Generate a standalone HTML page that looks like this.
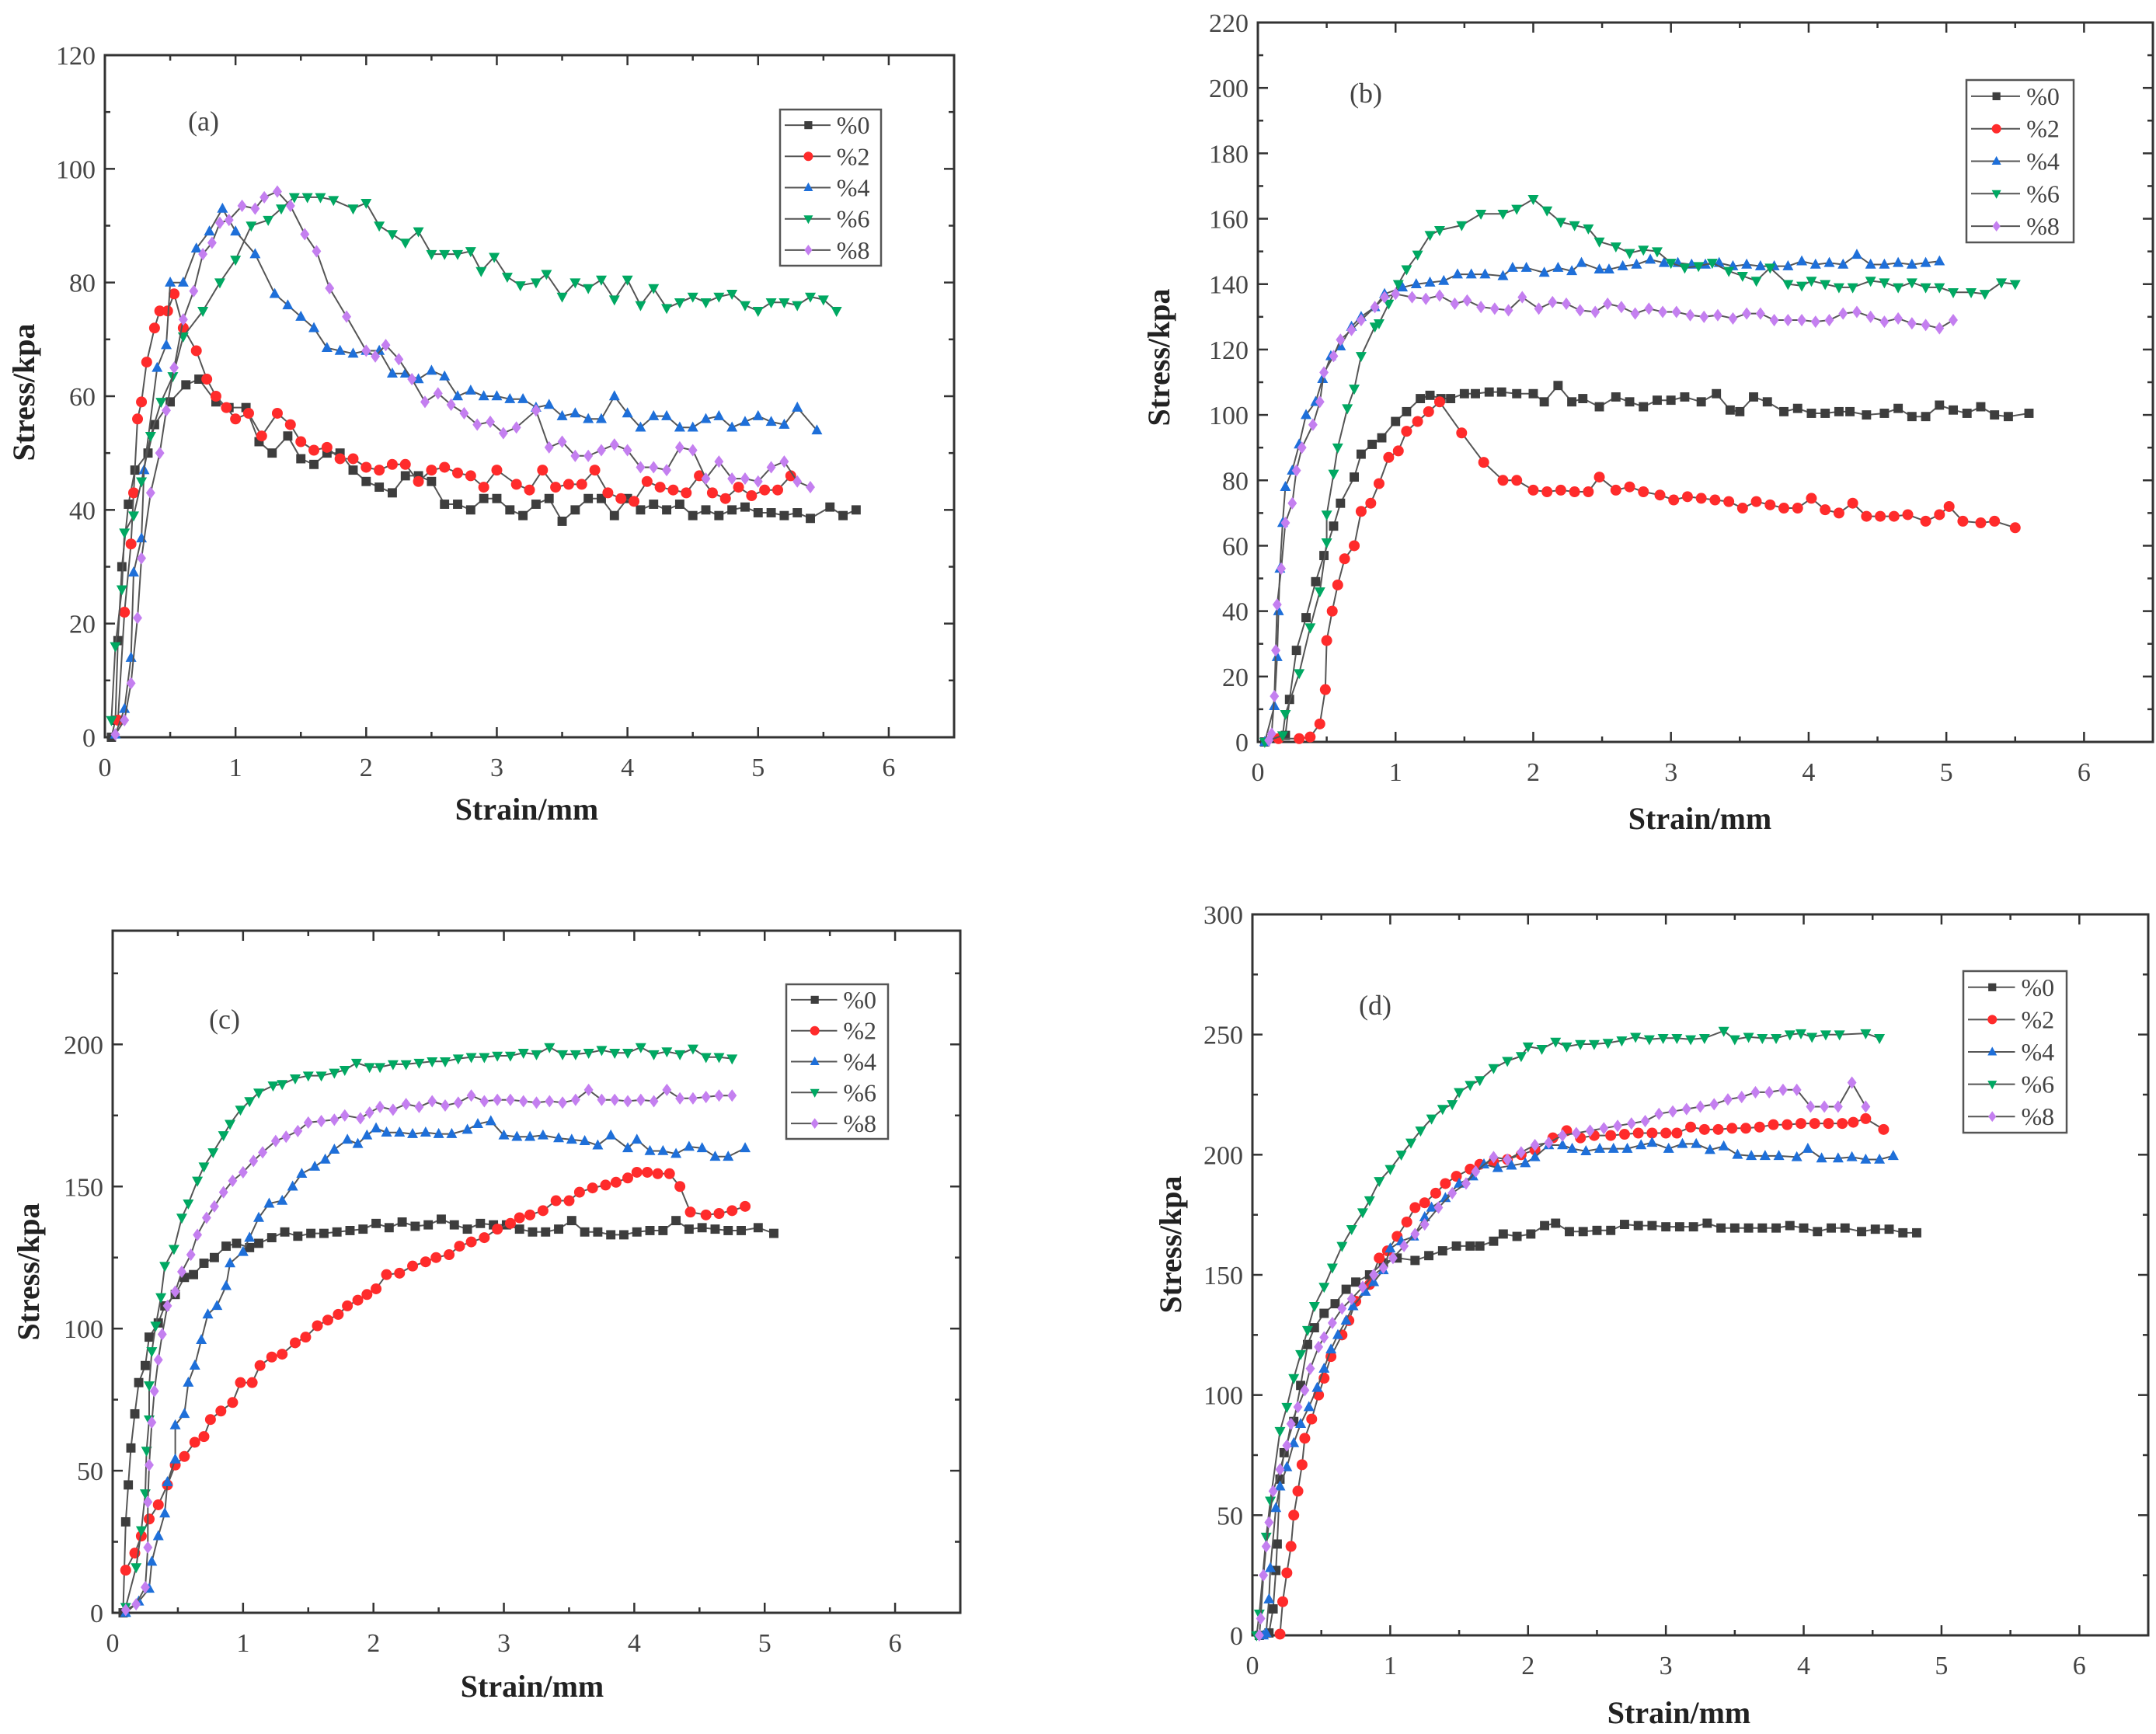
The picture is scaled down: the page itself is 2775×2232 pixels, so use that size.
<!DOCTYPE html>
<html><head><meta charset="utf-8"><style>
html,body{margin:0;padding:0;background:#fff;}
svg{display:block;}
</style></head><body>
<svg id="fig" xmlns="http://www.w3.org/2000/svg" width="2775" height="2232" viewBox="0 0 2775 2232"></svg>
<script>
// ---------- data ----------
const seriesNames = ["%0","%2","%4","%6","%8"];
const xTicks = [0,1,2,3,4,5,6];
const yTicksA = [0,20,40,60,80,100,120];
const yTicksB = [0,20,40,60,80,100,120,140,160,180,200,220];
const yTicksC = [0,50,100,150,200];
const yTicksD = [0,50,100,150,200,250,300];

const a0 = [[0.05,0],[0.08,3],[0.1,17],[0.13,30],[0.18,41],[0.23,47],[0.33,50],[0.38,55],[0.5,59],[0.62,62],[0.72,63],[0.85,59],[0.95,58],[1.08,58],[1.18,52],[1.28,50],[1.4,53],[1.5,49],[1.6,48],[1.7,50],[1.8,50],[1.9,47],[2.0,45],[2.1,44],[2.2,43],[2.3,46],[2.4,46],[2.5,45],[2.6,41],[2.7,41],[2.8,40],[2.9,42],[3.0,42],[3.1,40],[3.2,39],[3.3,41],[3.4,42],[3.5,38],[3.6,40],[3.7,42],[3.8,42],[3.9,39],[4.0,42],[4.1,40],[4.2,41],[4.3,40],[4.4,41],[4.5,39],[4.6,40],[4.7,39],[4.8,40],[4.9,40.5],[5.0,39.5],[5.1,39.5],[5.2,39],[5.3,39.5],[5.4,38.5],[5.55,40.5],[5.65,39],[5.75,40]];
const a2 = [[0.1,3],[0.15,22],[0.2,34],[0.22,43],[0.25,56],[0.28,59],[0.32,66],[0.38,72],[0.42,75],[0.48,75],[0.53,78],[0.6,72],[0.7,68],[0.78,63],[0.85,60],[0.93,58],[1.0,56],[1.1,57],[1.2,53],[1.32,57],[1.42,55],[1.5,52],[1.6,50.5],[1.7,51],[1.8,49],[1.9,49],[2.0,47.5],[2.1,47],[2.2,48],[2.3,48],[2.4,45],[2.5,47],[2.6,47.5],[2.7,46.5],[2.8,46],[2.9,44],[3.0,47],[3.15,44.5],[3.25,43.5],[3.35,47],[3.45,44],[3.55,44.5],[3.65,44.5],[3.75,47],[3.85,43],[3.95,42],[4.05,41.5],[4.15,45],[4.25,44],[4.35,43.5],[4.45,43],[4.55,46],[4.65,43],[4.75,42],[4.85,44],[4.95,42.5],[5.05,43.5],[5.15,43.5],[5.25,46]];
const a4 = [[0.08,0.5],[0.15,5],[0.2,14],[0.22,29],[0.28,35],[0.3,47],[0.4,65],[0.47,69],[0.5,80],[0.6,80],[0.7,86],[0.8,89],[0.9,93],[1.0,89],[1.15,85],[1.3,78],[1.4,76],[1.5,74],[1.6,72],[1.7,68.5],[1.8,68],[1.9,67.5],[2.0,68],[2.1,68],[2.2,64],[2.3,64],[2.4,63],[2.5,64.5],[2.6,63.5],[2.7,60],[2.8,61],[2.9,60],[3.0,60],[3.1,59.5],[3.2,59.5],[3.3,58],[3.4,58.5],[3.5,56.5],[3.6,57],[3.7,56],[3.8,56],[3.9,60],[4.0,57],[4.1,54.5],[4.2,56.5],[4.3,56.5],[4.4,54.5],[4.5,54.5],[4.6,56],[4.7,56.5],[4.8,54.5],[4.9,55.5],[5.0,56.5],[5.1,55.5],[5.2,55],[5.3,58],[5.45,54]];
const a6 = [[0.05,3],[0.08,16],[0.13,26],[0.15,36],[0.22,39],[0.28,45],[0.35,53],[0.43,59],[0.52,63.5],[0.6,70.5],[0.75,75],[0.88,80],[1.0,84],[1.12,90],[1.25,91],[1.35,93],[1.45,95],[1.55,95],[1.65,95],[1.75,94.5],[1.9,93],[2.0,94],[2.1,90],[2.2,88.5],[2.3,87],[2.4,89],[2.5,85],[2.6,85],[2.7,85],[2.8,85.5],[2.88,82],[2.98,84.5],[3.08,81],[3.18,79.5],[3.3,80],[3.38,81.5],[3.5,77.5],[3.6,80],[3.7,79],[3.8,80.5],[3.9,77],[4.0,80.5],[4.1,76],[4.2,79],[4.3,75.5],[4.4,76.5],[4.5,77.5],[4.6,76.5],[4.7,77.5],[4.8,78],[4.9,76],[5.0,75],[5.1,76.5],[5.2,76.5],[5.3,76],[5.4,77.5],[5.5,77],[5.6,75]];
const a8 = [[0.08,0.5],[0.15,3],[0.2,9.5],[0.25,21],[0.28,31.5],[0.35,43],[0.42,50],[0.47,57.5],[0.53,65],[0.6,73.5],[0.68,78.5],[0.75,85],[0.82,87],[0.88,90.5],[0.95,91],[1.05,93.5],[1.15,93],[1.22,95],[1.32,96],[1.42,93.5],[1.53,88.5],[1.62,85.5],[1.72,79],[1.85,74],[2.0,68],[2.07,67],[2.15,69],[2.25,66.5],[2.35,63],[2.45,59],[2.55,60.5],[2.65,58.5],[2.75,57],[2.85,55],[2.95,55.5],[3.05,53.5],[3.15,54.5],[3.3,57.5],[3.4,51],[3.5,52],[3.6,49.5],[3.7,49.5],[3.8,50.5],[3.9,51.5],[4.0,50.5],[4.1,47.5],[4.2,47.5],[4.3,47],[4.4,51],[4.5,50.5],[4.6,45.5],[4.7,48.5],[4.8,45.5],[4.9,45.5],[5.0,45],[5.1,47.5],[5.2,48.5],[5.3,45],[5.4,44]];

const b0 = [[0.05,0],[0.2,2],[0.23,13],[0.28,28],[0.35,38],[0.42,49],[0.48,57],[0.55,66],[0.6,73],[0.7,81],[0.75,88],[0.83,91],[0.9,93],[1.0,98],[1.08,101],[1.18,105],[1.25,106],[1.33,105],[1.4,105],[1.5,106.5],[1.58,106.5],[1.68,107],[1.77,107],[1.88,106.5],[2.0,106.5],[2.08,104],[2.18,109],[2.28,104],[2.36,105],[2.48,102.5],[2.6,105.5],[2.7,104],[2.8,102.5],[2.9,104.5],[3.0,104.5],[3.1,105.5],[3.22,104],[3.33,106.5],[3.43,101.5],[3.5,101],[3.6,105.5],[3.7,104],[3.82,101],[3.92,102],[4.02,100.5],[4.12,100.5],[4.22,101],[4.3,101],[4.42,100],[4.55,100.5],[4.65,102],[4.75,99.5],[4.85,99.5],[4.95,103],[5.05,101.5],[5.15,100.5],[5.25,102.5],[5.35,100],[5.45,99.5],[5.6,100.5]];
const b2 = [[0.15,1],[0.3,1],[0.38,1.5],[0.45,5.5],[0.49,16],[0.5,31],[0.54,40],[0.58,48],[0.63,56],[0.7,60],[0.75,70.5],[0.82,73],[0.88,79],[0.95,87],[1.02,89],[1.08,95],[1.16,98],[1.24,101],[1.32,104],[1.48,94.5],[1.64,85.5],[1.78,80],[1.88,80],[2.0,77],[2.1,76.5],[2.2,77],[2.3,76.5],[2.4,76.5],[2.48,81],[2.6,77],[2.7,78],[2.8,76.5],[2.92,75.5],[3.02,74],[3.12,75],[3.22,74.5],[3.32,74],[3.42,73.5],[3.52,71.5],[3.62,73.5],[3.72,72.5],[3.82,71.5],[3.92,71.5],[4.02,74.5],[4.12,71],[4.22,70],[4.32,73],[4.42,69],[4.52,69],[4.62,69],[4.72,69.5],[4.85,67.5],[4.95,69.5],[5.02,72],[5.12,67.5],[5.25,67],[5.35,67.5],[5.5,65.5]];
const b4 = [[0.05,0],[0.12,11],[0.14,26],[0.15,40],[0.16,53],[0.18,67],[0.2,78],[0.25,83],[0.3,91],[0.35,100],[0.42,104],[0.47,111],[0.53,118],[0.6,121],[0.68,127],[0.75,130],[0.85,133],[0.92,137],[1.05,139],[1.15,140],[1.25,140.5],[1.35,141],[1.45,143],[1.55,143],[1.65,143],[1.78,142.5],[1.85,145],[1.95,145],[2.08,143.5],[2.18,145],[2.28,144],[2.35,146.5],[2.48,144.5],[2.55,144.5],[2.65,145.5],[2.75,146],[2.85,147.5],[2.95,146.5],[3.05,146.5],[3.15,146],[3.25,146],[3.35,146.5],[3.45,145.5],[3.55,146],[3.65,145.5],[3.75,145.5],[3.85,145.5],[3.95,147],[4.05,146],[4.15,146.5],[4.25,146],[4.35,149],[4.45,146],[4.55,146],[4.65,146.5],[4.75,146],[4.85,146.5],[4.95,147]];
const b6 = [[0.05,0],[0.18,2],[0.2,8.5],[0.3,21],[0.38,35],[0.45,46],[0.5,61],[0.5,69.5],[0.55,82],[0.58,90],[0.65,102],[0.7,108],[0.75,118],[0.85,127],[0.88,128],[0.95,134],[1.02,140],[1.08,144.5],[1.16,149],[1.25,155],[1.32,156.5],[1.48,158],[1.62,161.5],[1.78,161.5],[1.88,163],[2.0,166],[2.1,162.5],[2.2,159],[2.3,158],[2.4,157],[2.48,153],[2.6,151.5],[2.7,149.5],[2.8,150.5],[2.9,150],[3.0,146.5],[3.1,145],[3.2,145.5],[3.3,146.5],[3.42,144],[3.52,142.5],[3.62,141],[3.72,145],[3.85,140],[3.95,139.5],[4.02,141],[4.12,140],[4.22,139],[4.32,139],[4.45,141],[4.55,140.5],[4.65,139],[4.75,140.5],[4.85,139],[4.95,139],[5.05,137.5],[5.18,137.5],[5.28,137],[5.4,140.5],[5.5,140]];
const b8 = [[0.08,0.5],[0.1,2.5],[0.12,14],[0.13,28],[0.14,42],[0.17,53],[0.2,67],[0.25,73],[0.28,83],[0.32,90],[0.4,97],[0.45,104],[0.48,113],[0.55,118],[0.6,123],[0.68,126],[0.75,129],[0.85,133],[0.92,136],[1.0,137],[1.12,136],[1.22,135.5],[1.32,136.5],[1.43,134],[1.52,135],[1.62,133],[1.72,132.5],[1.82,132],[1.92,136],[2.04,132.5],[2.14,134.5],[2.24,134],[2.34,132],[2.45,131.5],[2.54,134],[2.64,133],[2.74,131],[2.84,132.5],[2.94,131.5],[3.04,131.5],[3.14,130.5],[3.24,130],[3.34,130.5],[3.45,129.5],[3.55,131],[3.65,131],[3.75,129],[3.85,129],[3.95,129],[4.05,128.5],[4.15,129],[4.25,131],[4.35,131.5],[4.45,130],[4.55,128.5],[4.65,129.5],[4.75,128],[4.85,127.5],[4.95,126.5],[5.05,129]];

const c0 = [[0.08,0],[0.1,32],[0.12,45],[0.14,58],[0.17,70],[0.2,81],[0.25,87],[0.28,97],[0.35,102],[0.4,108],[0.48,112],[0.55,118],[0.62,119],[0.7,123],[0.78,125],[0.87,129],[0.95,130],[1.05,128.5],[1.12,130],[1.22,132],[1.32,134],[1.42,132.5],[1.52,133.5],[1.62,133.5],[1.72,134],[1.82,134.5],[1.92,135],[2.02,137],[2.12,135.5],[2.22,137.5],[2.32,136],[2.42,136.5],[2.52,138.5],[2.62,136.5],[2.72,135],[2.82,137],[2.92,136.5],[3.02,136.5],[3.12,135],[3.22,134],[3.32,134],[3.42,135],[3.52,138],[3.62,134],[3.72,134],[3.82,133],[3.92,133],[4.02,134],[4.12,134.5],[4.22,134.5],[4.32,138],[4.42,135],[4.52,135.5],[4.62,135],[4.72,134.5],[4.82,134.5],[4.95,135.5],[5.07,133.5]];
const c2 = [[0.1,15],[0.17,21],[0.22,27],[0.28,33],[0.35,38],[0.42,45],[0.48,52],[0.55,55],[0.63,60],[0.7,62],[0.75,68],[0.83,71],[0.92,74],[0.98,81],[1.07,81],[1.13,87],[1.22,90],[1.3,91],[1.4,95],[1.48,97],[1.57,101],[1.65,103],[1.73,105],[1.8,108],[1.88,110],[1.95,112],[2.02,114],[2.1,119],[2.2,119.5],[2.3,122],[2.4,123.5],[2.48,125],[2.58,126],[2.66,129],[2.75,130.5],[2.85,132],[2.95,135],[3.05,137],[3.12,139],[3.2,140],[3.3,141.5],[3.4,145],[3.5,145],[3.58,148],[3.68,149.5],[3.78,150.5],[3.86,151.5],[3.95,153],[4.02,155],[4.1,155],[4.18,154.5],[4.27,154.5],[4.35,150],[4.43,141],[4.55,140],[4.65,140.5],[4.75,141.5],[4.85,143]];
const c4 = [[0.1,0],[0.2,4],[0.28,8.5],[0.3,18],[0.35,27],[0.4,35],[0.42,46],[0.48,54],[0.48,66],[0.55,70],[0.58,81],[0.63,87],[0.68,96],[0.73,105],[0.8,108],[0.87,115],[0.9,123],[1.0,127],[1.05,132],[1.12,139],[1.2,144],[1.3,145],[1.38,150],[1.45,154.5],[1.55,157],[1.63,159.5],[1.7,163],[1.8,166.5],[1.88,165],[1.95,168],[2.02,170.5],[2.1,169],[2.2,169],[2.3,168.5],[2.4,169],[2.5,168.5],[2.6,168.5],[2.72,170],[2.8,172],[2.9,173],[3.0,168],[3.1,167.5],[3.2,167.5],[3.3,168],[3.42,167],[3.52,166.5],[3.62,166],[3.72,164.5],[3.82,168],[3.95,163.5],[4.02,166.5],[4.12,162.5],[4.22,162.5],[4.32,161.5],[4.42,164],[4.52,163.5],[4.62,160.5],[4.72,160.5],[4.85,163.5]];
const c6 = [[0.1,2],[0.18,16],[0.22,29],[0.25,42],[0.26,57],[0.28,68],[0.28,80],[0.3,92],[0.33,101],[0.37,111],[0.4,122],[0.47,128],[0.53,139],[0.58,144],[0.65,152],[0.7,157],[0.77,162],[0.85,168],[0.9,172],[0.98,177],[1.05,180],[1.12,183],[1.23,185.5],[1.3,186],[1.4,188],[1.5,189],[1.6,189],[1.7,190],[1.78,191],[1.87,193.5],[1.97,192],[2.05,192],[2.15,193],[2.25,193],[2.35,193.5],[2.45,194],[2.55,194],[2.65,195],[2.75,195.5],[2.85,195.5],[2.95,196],[3.05,196],[3.15,197],[3.25,196.5],[3.35,199],[3.45,196.5],[3.55,196.5],[3.65,197],[3.75,198],[3.85,197],[3.95,197],[4.05,199],[4.15,196.5],[4.25,197.5],[4.35,196.5],[4.45,198.5],[4.55,195.5],[4.65,195.5],[4.75,195]];
const c8 = [[0.1,1],[0.18,3],[0.25,9],[0.27,23],[0.27,39],[0.28,52],[0.3,67],[0.32,78],[0.35,89],[0.38,98],[0.42,108],[0.48,113],[0.53,120],[0.6,126],[0.65,133],[0.72,139],[0.78,143],[0.85,148],[0.92,152],[1.0,155],[1.08,159],[1.15,162],[1.25,166],[1.33,167.5],[1.42,169.5],[1.5,172.5],[1.6,173],[1.7,173.5],[1.78,175],[1.9,174],[1.97,176],[2.05,178],[2.15,177],[2.25,179],[2.35,178],[2.45,180],[2.55,178.5],[2.65,179.5],[2.75,182],[2.85,180],[2.95,180.5],[3.05,180.5],[3.15,180],[3.25,179.5],[3.35,180],[3.45,179.5],[3.55,180.5],[3.65,184],[3.75,180.5],[3.85,180.5],[3.95,180],[4.05,180.5],[4.15,180],[4.25,184],[4.35,181],[4.45,181],[4.55,181.5],[4.65,182],[4.75,182]];

const d0 = [[0.05,0],[0.12,1],[0.15,11],[0.17,27],[0.18,38],[0.2,65],[0.23,76],[0.3,89],[0.35,104],[0.4,121],[0.45,128],[0.52,134],[0.6,138],[0.68,144],[0.75,147],[0.85,150],[0.95,155],[1.05,157],[1.18,156],[1.28,158],[1.38,160],[1.48,162],[1.58,162],[1.65,162],[1.75,164],[1.82,167],[1.92,166],[2.02,167],[2.12,170.5],[2.2,171.5],[2.3,168],[2.4,168],[2.5,168.5],[2.6,168.5],[2.7,171],[2.8,170.5],[2.9,170.5],[3.0,170],[3.1,170],[3.2,170],[3.3,171.5],[3.4,169.5],[3.5,169.5],[3.6,169.5],[3.7,169.5],[3.8,169.5],[3.9,170.5],[4.0,169.5],[4.1,168],[4.2,169.5],[4.3,169.5],[4.42,168],[4.52,169],[4.62,169],[4.72,167.5],[4.82,167.5]];
const d2 = [[0.2,0.5],[0.22,14],[0.25,26],[0.28,37],[0.3,50],[0.33,60],[0.36,71],[0.38,82],[0.43,90],[0.48,100],[0.52,107],[0.57,116],[0.65,125],[0.7,131],[0.75,139],[0.85,146],[0.92,157],[0.98,160],[1.05,166],[1.12,172],[1.18,178],[1.25,180],[1.33,184],[1.4,188],[1.48,191],[1.58,194],[1.65,196],[1.75,197],[1.85,198],[1.95,200],[2.05,202],[2.18,207],[2.28,210],[2.38,207],[2.48,208],[2.6,208],[2.7,208.5],[2.8,209],[2.9,209],[3.0,209],[3.08,209],[3.18,211.5],[3.28,210.5],[3.38,210.5],[3.48,211],[3.58,211],[3.68,211.5],[3.78,212.5],[3.88,212.5],[3.98,213],[4.08,213],[4.18,213],[4.28,213],[4.36,213.5],[4.45,215],[4.58,210.5]];
const d4 = [[0.08,0],[0.1,1],[0.12,15],[0.13,28],[0.17,53],[0.2,62],[0.25,70],[0.3,80],[0.35,88],[0.41,95],[0.47,103],[0.52,111],[0.57,119],[0.62,125],[0.68,131],[0.73,137],[0.82,143],[0.88,147],[0.95,152],[1.0,161],[1.08,164],[1.17,166],[1.25,174],[1.3,178],[1.4,182],[1.5,188],[1.6,191],[1.68,196],[1.78,194.5],[1.88,195.5],[1.98,196.5],[2.05,199],[2.15,204],[2.25,204],[2.32,202.5],[2.42,201.5],[2.52,202.5],[2.62,202.5],[2.72,202.5],[2.82,204],[2.9,205],[3.02,202.5],[3.12,204.5],[3.22,204.5],[3.32,202],[3.42,203.5],[3.52,200],[3.62,199.5],[3.72,199.5],[3.82,199.5],[3.95,199],[4.03,202.5],[4.13,198.5],[4.25,198.5],[4.35,199],[4.45,198],[4.55,198],[4.65,199.5]];
const d6 = [[0.03,0],[0.05,9],[0.1,41],[0.13,56],[0.2,85],[0.25,95],[0.3,107],[0.35,117],[0.4,127],[0.45,137],[0.52,145],[0.58,153],[0.65,162],[0.72,169],[0.8,176],[0.85,181],[0.92,189],[1.0,194],[1.08,200],[1.15,205],[1.22,210],[1.3,215],[1.38,219],[1.45,221],[1.5,226],[1.58,229],[1.65,231],[1.75,236],[1.85,239],[1.95,241],[2.0,245],[2.1,244],[2.2,247],[2.28,245],[2.38,246],[2.48,246],[2.58,246.5],[2.68,247.5],[2.78,249],[2.88,248],[2.98,248.5],[3.08,248.5],[3.18,248],[3.28,248.5],[3.42,251.5],[3.5,248],[3.6,249],[3.7,248.5],[3.8,248.5],[3.9,250],[3.98,250.5],[4.06,249],[4.16,250],[4.26,250],[4.45,250.5],[4.55,248.5]];
const d8 = [[0.05,0],[0.06,7],[0.08,25],[0.1,37],[0.12,47],[0.15,60],[0.2,69],[0.25,79],[0.28,88],[0.33,95],[0.38,102],[0.42,111],[0.48,120],[0.52,124],[0.58,130],[0.65,136],[0.72,140],[0.8,145],[0.88,150],[0.95,153],[1.02,157],[1.1,162],[1.18,167],[1.25,171],[1.35,178],[1.45,184],[1.55,188],[1.62,193],[1.75,199],[1.85,198],[1.95,201],[2.05,204],[2.15,205],[2.25,208],[2.35,209],[2.45,210],[2.55,211],[2.65,212],[2.75,213],[2.85,214],[2.95,217],[3.05,218],[3.15,219],[3.25,220],[3.35,221],[3.45,223],[3.55,224],[3.65,226],[3.75,226],[3.85,227],[3.95,227],[4.05,220],[4.15,220],[4.25,220],[4.35,230],[4.45,220]];

// ---------- drawing ----------
const NS = "http://www.w3.org/2000/svg";
const svg = document.getElementById("fig");
const COLORS = ["#3d3d3d","#ff2b2b","#1e6fd9","#00a862","#c47ff0"];
const SHAPES = ["square","circle","up","down","diamond"];

function mk(tag, attrs, parent){
  const e = document.createElementNS(NS, tag);
  for (const k in attrs) e.setAttribute(k, attrs[k]);
  parent.appendChild(e);
  return e;
}
function marker(g, shape, cx, cy, color, r){
  let e;
  if (shape==="square") e = mk("rect",{x:cx-r*0.85,y:cy-r*0.85,width:r*1.7,height:r*1.7,fill:color},g);
  else if (shape==="circle") e = mk("circle",{cx:cx,cy:cy,r:r,fill:color},g);
  else if (shape==="up") e = mk("polygon",{points:`${cx},${cy-r*1.1} ${cx+r},${cy+r*0.75} ${cx-r},${cy+r*0.75}`,fill:color},g);
  else if (shape==="down") e = mk("polygon",{points:`${cx},${cy+r*1.1} ${cx+r},${cy-r*0.75} ${cx-r},${cy-r*0.75}`,fill:color},g);
  else e = mk("polygon",{points:`${cx},${cy-r*1.15} ${cx+r*0.85},${cy} ${cx},${cy+r*1.15} ${cx-r*0.85},${cy}`,fill:color},g);
  return e;
}

function panel(cfg){
  const g = mk("g",{},svg);
  
  
  const L=cfg.left,R=cfg.right,T=cfg.top,B=cfg.bottom;
  const xs = v => L + (v - 0) / 6.5 * (R - L);
  const ys = v => B - v / cfg.ymax * (B - T);
  const axes = mk("g",{},g);
  
  
  mk("rect",{x:L,y:T,width:R-L,height:B-T,fill:"none",stroke:"#333","stroke-width":3},axes);
  // x ticks
  for (let v=0; v<=6.5; v+=0.5){
    const x = xs(v), major = Math.abs(v-Math.round(v))<1e-6;
    const len = major?13:7;
    mk("line",{x1:x,y1:B,x2:x,y2:B-len,stroke:"#333","stroke-width":2.5},axes);
    mk("line",{x1:x,y1:T,x2:x,y2:T+len,stroke:"#333","stroke-width":2.5},axes);
  }
  xTicks.forEach(v=>{
    const t = mk("text",{x:xs(v),y:B+50,"text-anchor":"middle","font-family":"Liberation Serif, serif","font-size":34,fill:"#444"},axes);
    t.textContent = v;
    
    
  });
  const ystep = cfg.yticks[1]-cfg.yticks[0];
  for (let v=0; v<=cfg.ymax+1e-6; v+=ystep/2){
    const y = ys(v), major = Math.abs((v/ystep)-Math.round(v/ystep))<1e-6;
    const len = major?13:7;
    mk("line",{x1:L,y1:y,x2:L+len,y2:y,stroke:"#333","stroke-width":2.5},axes);
    mk("line",{x1:R,y1:y,x2:R-len,y2:y,stroke:"#333","stroke-width":2.5},axes);
  }
  cfg.yticks.forEach(v=>{
    const t = mk("text",{x:L-12,y:ys(v)+12,"text-anchor":"end","font-family":"Liberation Serif, serif","font-size":34,fill:"#444"},axes);
    t.textContent = v;
    
    
  });
  const xt = mk("text",{x:cfg.xtitle[0],y:cfg.xtitle[1],"text-anchor":"middle","font-family":"Liberation Serif, serif","font-size":40,"font-weight":"bold",fill:"#222"},g);
  xt.textContent = "Strain/mm";
  
  
  const yt = mk("text",{x:0,y:0,"text-anchor":"middle","font-family":"Liberation Serif, serif","font-size":40,"font-weight":"bold",fill:"#222",transform:`translate(${cfg.ytitle[0]},${cfg.ytitle[1]}) rotate(-90)`},g);
  yt.textContent = "Stress/kpa";
  
  
  const pl = mk("text",{x:cfg.label[0],y:cfg.label[1],"text-anchor":"middle","font-family":"Liberation Serif, serif","font-size":36,fill:"#444"},g);
  pl.textContent = "(" + cfg.id + ")";
  
  
  // series
  cfg.series.forEach((pts,i)=>{
    const sg = mk("g",{},g);
    
    
    const d = pts.map((p,j)=>(j?"L":"M")+xs(p[0]).toFixed(1)+" "+ys(p[1]).toFixed(1)).join(" ");
    mk("path",{d:d,fill:"none",stroke:"#555","stroke-width":2},sg);
    pts.forEach(p=>{
      const m = marker(sg, SHAPES[i], xs(p[0]), ys(p[1]), COLORS[i], 7);
      
      
    });
  });
  // legend
  const lg = mk("g",{},g);
  
  
  const [lx,ly,lw,lh] = cfg.legend;
  mk("rect",{x:lx,y:ly,width:lw,height:lh,fill:"#fff",stroke:"#555","stroke-width":2.5},lg);
  const step = lh/5;
  seriesNames.forEach((n,i)=>{
    const cy = ly + step*(i+0.5);
    const en = mk("g",{},lg);
    
    
    mk("line",{x1:lx+6,y1:cy,x2:lx+lw*0.5,y2:cy,stroke:"#555","stroke-width":2},en);
    marker(en, SHAPES[i], lx+lw*0.28, cy, COLORS[i], 6);
    const t = mk("text",{x:lx+lw*0.56,y:cy+11,"font-family":"Liberation Serif, serif","font-size":32,fill:"#444"},en);
    t.textContent = n;
  });
}

panel({id:"a",left:135,right:1228,top:71,bottom:949,ymax:120,yticks:yTicksA,
  xtitle:[678,1055],ytitle:[44,505],label:[262,168],legend:[1004,141,130,201],series:[a0,a2,a4,a6,a8]});
panel({id:"b",left:1619,right:2771,top:29,bottom:955,ymax:220,yticks:yTicksB,
  xtitle:[2188,1067],ytitle:[1505,460],label:[1758,132],legend:[2531,103,138,209],series:[b0,b2,b4,b6,b8]});
panel({id:"c",left:145,right:1236,top:1198,bottom:2076,ymax:240,yticks:yTicksC,
  xtitle:[685,2184],ytitle:[50,1637],label:[289,1324],legend:[1012,1267,131,199],series:[c0,c2,c4,c6,c8]});
panel({id:"d",left:1612,right:2765,top:1177,bottom:2105,ymax:300,yticks:yTicksD,
  xtitle:[2161,2218],ytitle:[1520,1602],label:[1770,1306],legend:[2527,1250,133,208],series:[d0,d2,d4,d6,d8]});
</script>
</body></html>
